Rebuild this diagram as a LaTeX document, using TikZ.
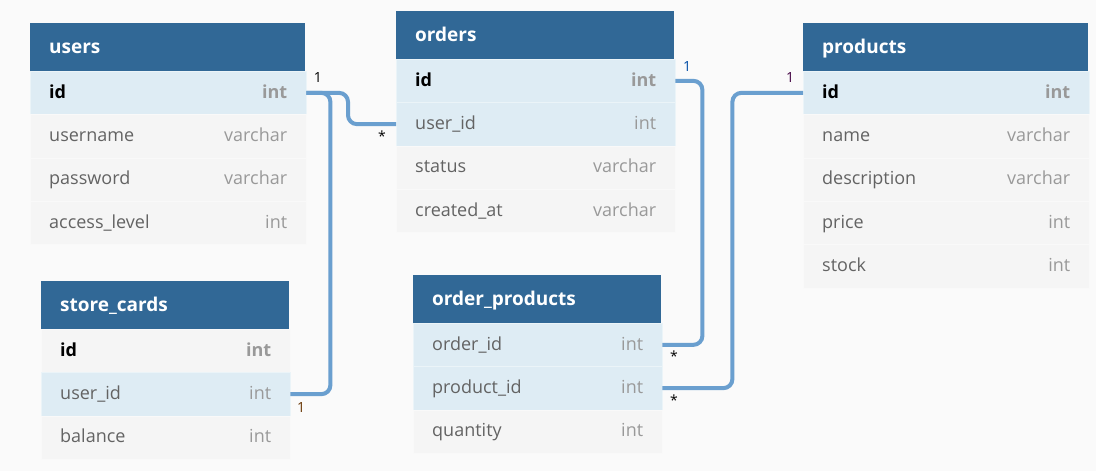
\documentclass[tikz,border=0pt]{standalone}
\usepackage{fontspec}
\setmainfont{Open Sans}
\definecolor{head}{HTML}{316896}
\definecolor{rowblue}{HTML}{DEECF4}
\definecolor{rowgrey}{HTML}{F5F5F5}
\definecolor{linkblue}{HTML}{6A9FCF}
\definecolor{namegrey}{HTML}{636363}
\definecolor{typegrey}{HTML}{999999}
\definecolor{bg}{HTML}{FAFAFA}
\begin{document}
\begin{tikzpicture}[x=1pt, y=-1pt,
	head/.style = {fill=head, text=white, font=\bfseries\fontsize{19}{22}\selectfont, anchor=north west, minimum height=48, inner xsep=19, inner ysep=0, text width=#1-38, align=left, text height=14, text depth=2},
	row/.style 2 args = {anchor=north west, minimum height=43.3, inner xsep=19, inner ysep=0, text width=#1-37, align=left, text height=13, text depth=2, text=namegrey, font=\fontsize{18}{20}\selectfont, draw=white!40!#2, line width=0.4, fill=#2},
	pk/.style = {text=black, font=\bfseries\fontsize{18}{20}\selectfont},
	field/.style = {},
	card/.style = {font=\fontsize{14}{16}\selectfont, inner sep=0},
	rel/.style = {draw=linkblue, line width=4, rounded corners=9}]

	\def \rh {43.3}
	\fill[bg] (0,0) rectangle (1096,471);
	\useasboundingbox (0,0) rectangle (1096,471);

	% users
	\node[head=275] (users) at (30,23) {users};
	\foreach \fld/\typ/\col/\sty [count=\i] in {id/int/rowblue/pk, username/varchar/rowgrey/field, password/varchar/rowgrey/field, access\_level/int/rowgrey/field}
	{
		\node[row={275}{\col}, \sty] (users-\i) at (30, {71+(\i-1)*\rh}) {\fld\hskip 0pt plus 1filll{\color{typegrey}\typ}};
	}

	% orders
	\node[head=278] (orders) at (396,11) {orders};
	\foreach \fld/\typ/\col/\sty [count=\i] in {id/int/rowblue/pk, user\_id/int/rowblue/field, status/varchar/rowgrey/field, created\_at/varchar/rowgrey/field}
	{
		\node[row={278}{\col}, \sty] (orders-\i) at (396, {59+(\i-1)*\rh}) {\fld\hskip 0pt plus 1filll{\color{typegrey}\typ}};
	}

	% products
	\node[head=285] (products) at (803,23) {products};
	\foreach \fld/\typ/\col/\sty [count=\i] in {id/int/rowblue/pk, name/varchar/rowgrey/field, description/varchar/rowgrey/field, price/int/rowgrey/field, stock/int/rowgrey/field}
	{
		\node[row={285}{\col}, \sty] (products-\i) at (803, {71+(\i-1)*\rh}) {\fld\hskip 0pt plus 1filll{\color{typegrey}\typ}};
	}

	% store_cards
	\node[head=248] (cards) at (41,281) {store\_cards};
	\foreach \fld/\typ/\col/\sty [count=\i] in {id/int/rowgrey/pk, user\_id/int/rowblue/field, balance/int/rowgrey/field}
	{
		\node[row={248}{\col}, \sty] (cards-\i) at (41, {329+(\i-1)*\rh}) {\fld\hskip 0pt plus 1filll{\color{typegrey}\typ}};
	}

	% order_products
	\node[head=248] (oprod) at (413,275) {order\_products};
	\foreach \fld/\typ/\col/\sty [count=\i] in {order\_id/int/rowblue/field, product\_id/int/rowblue/field, quantity/int/rowgrey/field}
	{
		\node[row={248}{\col}, \sty] (oprod-\i) at (413, {323+(\i-1)*\rh}) {\fld\hskip 0pt plus 1filll{\color{typegrey}\typ}};
	}

	% relations
	\draw[rel] (users-1.east) -| ([xshift=-48]orders-2.west) -- (orders-2.west);
	\draw[rel] (users-1.east) -| ([xshift=40]cards-2.east) -- (cards-2.east);
	\draw[rel] (orders-1.east) -| ([xshift=40]oprod-1.east) -- (oprod-1.east);
	\draw[rel] (products-1.west) -| ([xshift=70]oprod-2.east) -- (oprod-2.east);

	% cardinalities
	\node[card] (c-users) at (318,78) {1};
	\node[card] (c-orders) at (382,136) {*};
	\node[card, text=black!60!orange] (c-cards) at (301,407) {1};
	\node[card, text=black!50!blue!70!cyan] (c-ordid) at (687,67) {1};
	\node[card] (c-oprod1) at (674,356) {*};
	\node[card, text=black!50!violet] (c-prod) at (790,78) {1};
	\node[card] (c-oprod2) at (674,400) {*};
\end{tikzpicture}
\end{document}
